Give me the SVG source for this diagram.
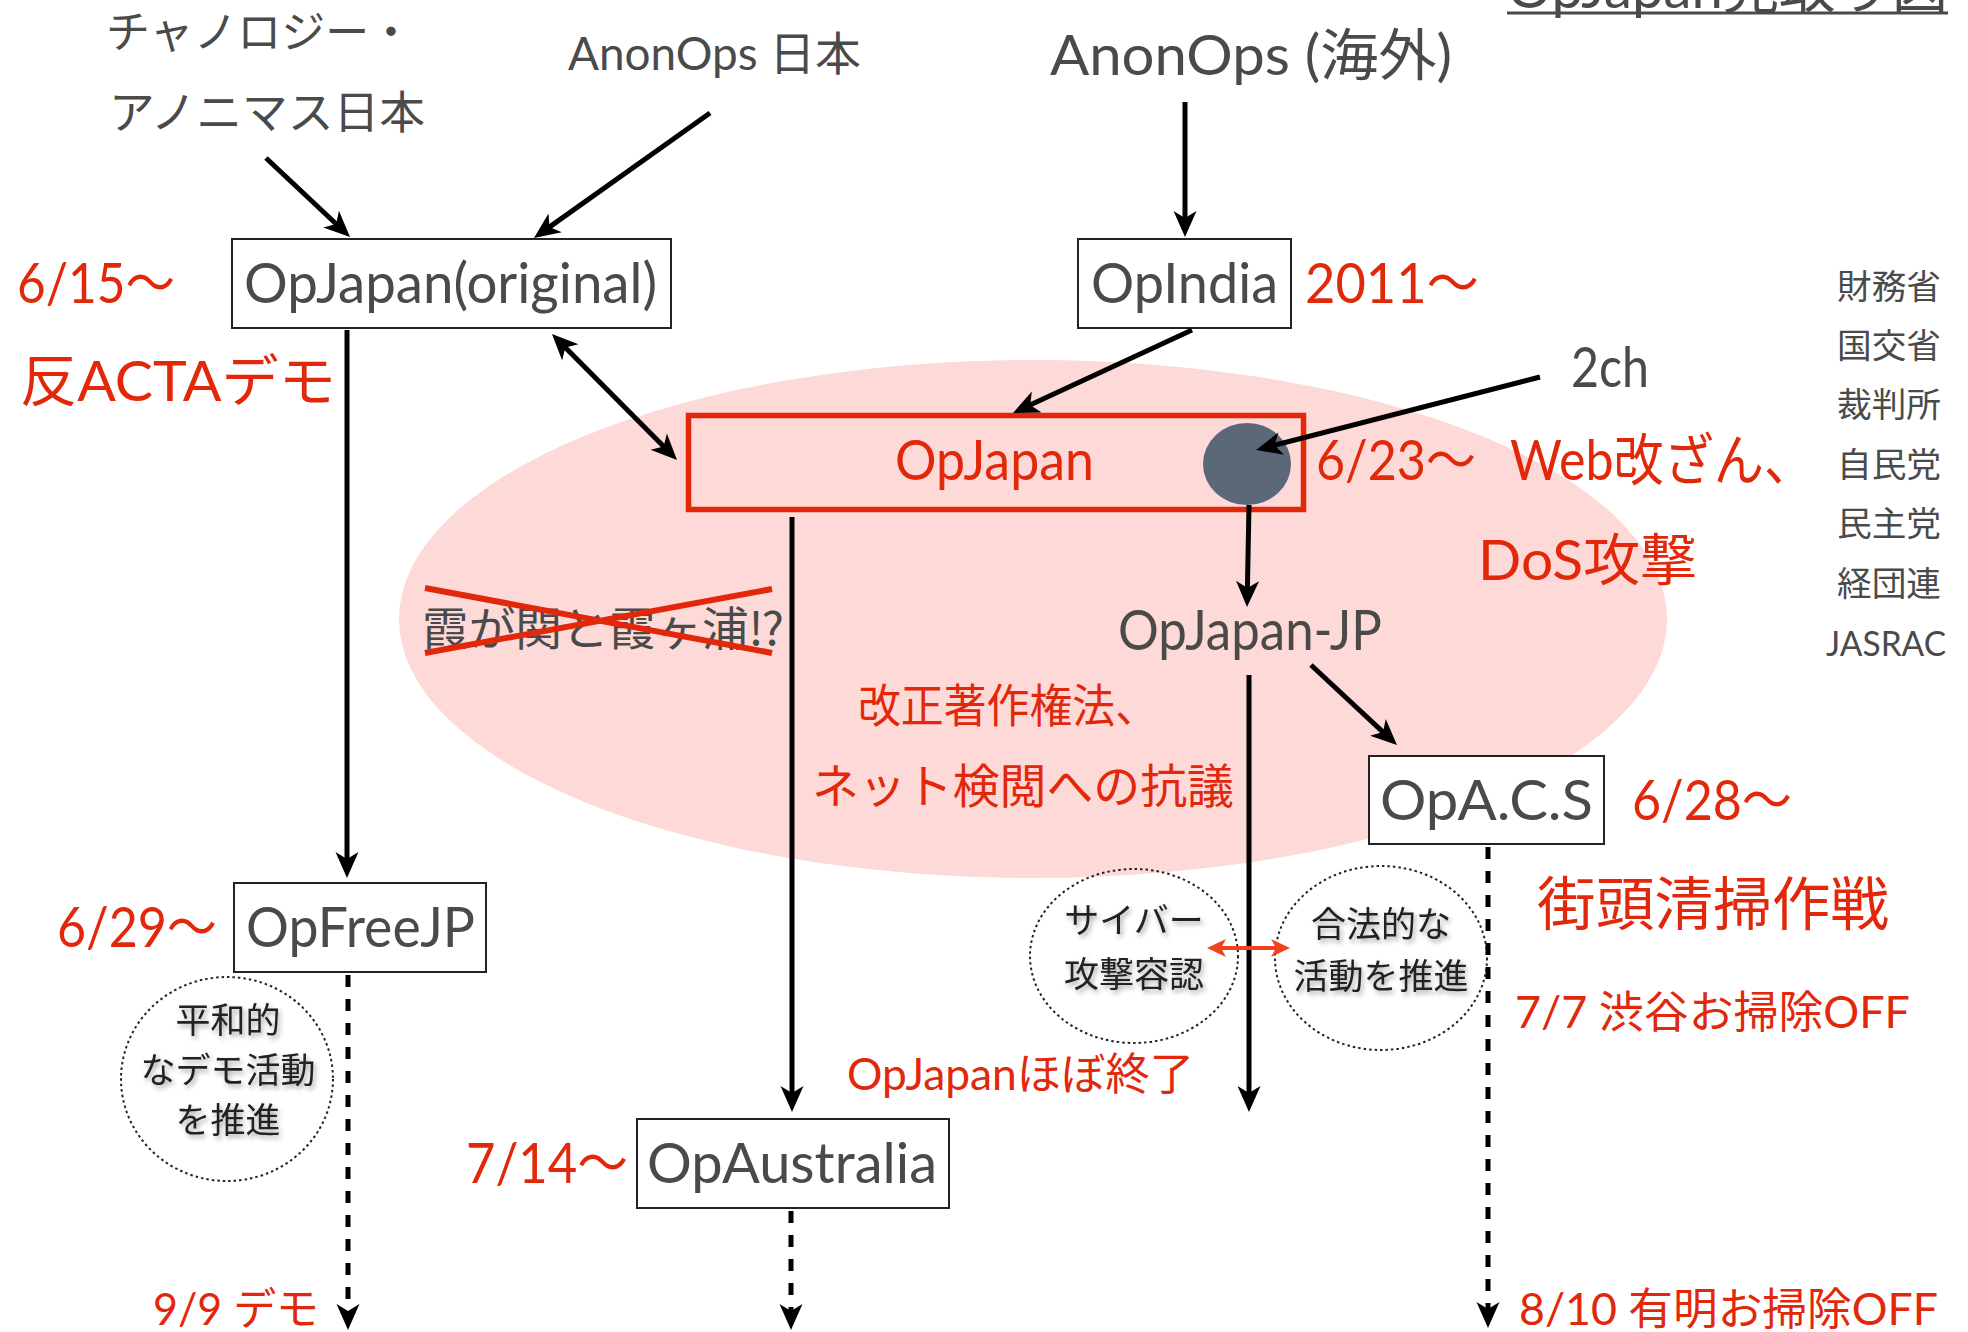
<svg xmlns="http://www.w3.org/2000/svg" width="1968" height="1332" viewBox="0 0 1968 1332">
<style>
text{font-family:Lato,"Noto Sans CJK JP",sans-serif}
.g{fill:#4a4a4a}
.r{fill:#e2280a}
.j{font-family:"Noto Sans CJK JP",sans-serif}
.box{fill:#fff;stroke:#222;stroke-width:2}
.dot{fill:none;stroke:#222;stroke-width:2;stroke-dasharray:2.5 3}
.c{fill:#222;font-family:"Noto Sans CJK JP",sans-serif;font-size:35px;text-anchor:middle;filter:url(#sh)}
.ln{stroke:#000;stroke-width:5;fill:none}
.ar{marker-end:url(#ah)}
.dash{stroke-dasharray:12 12}
</style>
<defs>
<marker id="ah" viewBox="-27 -12 29 24" refX="-8" refY="0" markerWidth="29" markerHeight="24" markerUnits="userSpaceOnUse" orient="auto-start-reverse" overflow="visible">
<path d="M0,0 L-26,-11.5 L-19,0 L-26,11.5 Z" fill="#000"/>
</marker>
<marker id="ahr" viewBox="-20 -10 22 20" refX="-6" refY="0" markerWidth="22" markerHeight="20" markerUnits="userSpaceOnUse" orient="auto-start-reverse" overflow="visible">
<path d="M0,0 L-19,-9 L-14,0 L-19,9 Z" fill="#f2411d"/>
</marker>
<filter id="sh" x="-20%" y="-40%" width="140%" height="180%">
<feDropShadow dx="2" dy="3" stdDeviation="2.5" flood-color="#000" flood-opacity="0.35"/>
</filter>
</defs>
<rect width="1968" height="1332" fill="#fff"/>

<g id="zone">
<ellipse cx="1033" cy="619" rx="634" ry="259" fill="#fdd9d7"/>
</g>

<g id="title">
<text class="g" x="1507" y="8" font-size="56" textLength="441" lengthAdjust="spacingAndGlyphs">OpJapan見取り図</text>
<line x1="1507" y1="13" x2="1948" y2="13" stroke="#4a4a4a" stroke-width="3"/>
</g>

<g id="chanology">
<text class="g j" x="106" y="48" font-size="44" textLength="307" lengthAdjust="spacingAndGlyphs">チャノロジー・</text>
<text class="g j" x="109" y="129" font-size="45" textLength="316" lengthAdjust="spacingAndGlyphs">アノニマス日本</text>
</g>

<g id="anonops-jp">
<text class="g" x="568" y="70" font-size="46" textLength="293" lengthAdjust="spacingAndGlyphs">AnonOps 日本</text>
</g>

<g id="anonops-intl">
<text class="g" x="1050" y="75" font-size="56" textLength="402" lengthAdjust="spacingAndGlyphs">AnonOps (海外)</text>
</g>

<g id="opjapan-original">
<rect class="box" x="232" y="239" width="439" height="89"/>
<text class="g" x="244" y="303" font-size="56" textLength="413" lengthAdjust="spacingAndGlyphs">OpJapan(original)</text>
<text class="r" x="17" y="303" font-size="56" textLength="158" lengthAdjust="spacingAndGlyphs">6/15〜</text>
<text class="r" x="20" y="401" font-size="56" textLength="316" lengthAdjust="spacingAndGlyphs">反ACTAデモ</text>
</g>

<g id="opindia">
<rect class="box" x="1078" y="239" width="213" height="89"/>
<text class="g" x="1091" y="303" font-size="56" textLength="187" lengthAdjust="spacingAndGlyphs">OpIndia</text>
<text class="r" x="1305" y="303" font-size="56" textLength="174" lengthAdjust="spacingAndGlyphs">2011〜</text>
</g>

<g id="targets">
<text class="g j" x="1837" y="299" font-size="34" textLength="104" lengthAdjust="spacingAndGlyphs">財務省</text>
<text class="g j" x="1837" y="358" font-size="34" textLength="104" lengthAdjust="spacingAndGlyphs">国交省</text>
<text class="g j" x="1837" y="417" font-size="34" textLength="104" lengthAdjust="spacingAndGlyphs">裁判所</text>
<text class="g j" x="1837" y="477" font-size="34" textLength="104" lengthAdjust="spacingAndGlyphs">自民党</text>
<text class="g j" x="1837" y="536" font-size="34" textLength="104" lengthAdjust="spacingAndGlyphs">民主党</text>
<text class="g j" x="1837" y="596" font-size="34" textLength="104" lengthAdjust="spacingAndGlyphs">経団連</text>
<text class="g" x="1826" y="656" font-size="34" textLength="120" lengthAdjust="spacingAndGlyphs">JASRAC</text>
</g>

<g id="twoch">
<text class="g" x="1571" y="387" font-size="56" textLength="78" lengthAdjust="spacingAndGlyphs">2ch</text>
</g>

<g id="opjapan">
<rect x="688.5" y="415.5" width="615" height="94" fill="none" stroke="#e2280a" stroke-width="5.5"/>
<text class="r" x="895" y="480" font-size="56" textLength="199" lengthAdjust="spacingAndGlyphs">OpJapan</text>
<ellipse cx="1247" cy="464" rx="44" ry="41" fill="#5b6878"/>
<text class="r" x="1316" y="480" font-size="56" textLength="160" lengthAdjust="spacingAndGlyphs">6/23〜</text>
<text class="r" x="1510" y="480" font-size="56" textLength="304" lengthAdjust="spacingAndGlyphs">Web改ざん、</text>
<text class="r" x="1478" y="580" font-size="56" textLength="219" lengthAdjust="spacingAndGlyphs">DoS攻撃</text>
</g>

<g id="kasumi">
<text class="g j" x="422" y="645" font-size="46" textLength="362" lengthAdjust="spacingAndGlyphs">霞が関と霞ヶ浦⁉</text>
<line x1="425" y1="588" x2="772" y2="653" stroke="#e2280a" stroke-width="6"/>
<line x1="425" y1="653" x2="772" y2="589" stroke="#e2280a" stroke-width="6"/>
</g>

<g id="protest">
<text class="r j" x="858" y="722" font-size="46" textLength="300" lengthAdjust="spacingAndGlyphs">改正著作権法、</text>
<text class="r j" x="812" y="803" font-size="47" textLength="422" lengthAdjust="spacingAndGlyphs">ネット検閲への抗議</text>
</g>

<g id="opjapan-jp">
<text class="g" x="1118" y="650" font-size="56" textLength="264" lengthAdjust="spacingAndGlyphs">OpJapan-JP</text>
</g>

<g id="opacs">
<rect class="box" x="1369" y="756" width="235" height="88"/>
<text class="g" x="1380" y="820" font-size="56" textLength="213" lengthAdjust="spacingAndGlyphs">OpA.C.S</text>
<text class="r" x="1632" y="820" font-size="56" textLength="160" lengthAdjust="spacingAndGlyphs">6/28〜</text>
<text class="r j" x="1537" y="925" font-size="58" textLength="352" lengthAdjust="spacingAndGlyphs">街頭清掃作戦</text>
<text class="r" x="1515" y="1028" font-size="44" textLength="395" lengthAdjust="spacingAndGlyphs">7/7 渋谷お掃除OFF</text>
<text class="r" x="1519" y="1325" font-size="44" textLength="419" lengthAdjust="spacingAndGlyphs">8/10 有明お掃除OFF</text>
</g>

<g id="opfreejp">
<rect class="box" x="234" y="883" width="252" height="89"/>
<text class="g" x="246" y="947" font-size="56" textLength="229" lengthAdjust="spacingAndGlyphs">OpFreeJP</text>
<text class="r" x="57" y="947" font-size="56" textLength="160" lengthAdjust="spacingAndGlyphs">6/29〜</text>
<text class="r" x="153" y="1325" font-size="44" textLength="166" lengthAdjust="spacingAndGlyphs">9/9 デモ</text>
</g>

<g id="peaceful">
<ellipse class="dot" cx="227" cy="1079" rx="106" ry="102"/>
<text class="c" x="228" y="1033">平和的</text>
<text class="c" x="228" y="1083">なデモ活動</text>
<text class="c" x="228" y="1133">を推進</text>
</g>

<g id="cyber">
<ellipse class="dot" cx="1134" cy="956" rx="104" ry="87"/>
<text class="c" x="1134" y="933">サイバー</text>
<text class="c" x="1134" y="987">攻撃容認</text>
</g>

<g id="legal">
<ellipse class="dot" cx="1381" cy="958" rx="106" ry="92"/>
<text class="c" x="1381" y="937">合法的な</text>
<text class="c" x="1381" y="989">活動を推進</text>
</g>

<g id="opend">
<text class="r" x="847" y="1090" font-size="44" textLength="347" lengthAdjust="spacingAndGlyphs">OpJapanほぼ終了</text>
</g>

<g id="opaustralia">
<rect class="box" x="637" y="1119" width="312" height="89"/>
<text class="g" x="647" y="1183" font-size="56" textLength="290" lengthAdjust="spacingAndGlyphs">OpAustralia</text>
<text class="r" x="466" y="1183" font-size="56" textLength="162" lengthAdjust="spacingAndGlyphs">7/14〜</text>
</g>

<g id="connectors">
<line class="ln ar" x1="266" y1="158" x2="344.2" y2="231.5"/>
<line class="ln ar" x1="710" y1="113" x2="540.5" y2="233.4"/>
<line class="ln ar" x1="1185" y1="102" x2="1185" y2="229"/>
<line class="ln ar" x1="347" y1="330" x2="347" y2="870"/>
<line class="ln ar" x1="557.6" y1="339.7" x2="671.4" y2="454.3" marker-start="url(#ah)"/>
<line class="ln ar" x1="1192" y1="330" x2="1020.3" y2="409.6"/>
<line class="ln ar" x1="1540" y1="377" x2="1263.8" y2="448"/>
<line class="ln ar" x1="1249" y1="505" x2="1247.2" y2="599"/>
<line class="ln ar" x1="792" y1="517" x2="792" y2="1104"/>
<line class="ln ar" x1="1249" y1="675" x2="1249" y2="1104"/>
<line class="ln ar" x1="1311" y1="665" x2="1391.1" y2="739.6"/>
<line class="ln ar dash" x1="348" y1="975" x2="348" y2="1322"/>
<line class="ln ar dash" x1="791" y1="1211" x2="791" y2="1322"/>
<line class="ln ar dash" x1="1488" y1="847" x2="1488" y2="1320"/>
<line x1="1213" y1="948" x2="1284" y2="948" stroke="#f2411d" stroke-width="4" marker-start="url(#ahr)" marker-end="url(#ahr)"/>
</g>
</svg>
